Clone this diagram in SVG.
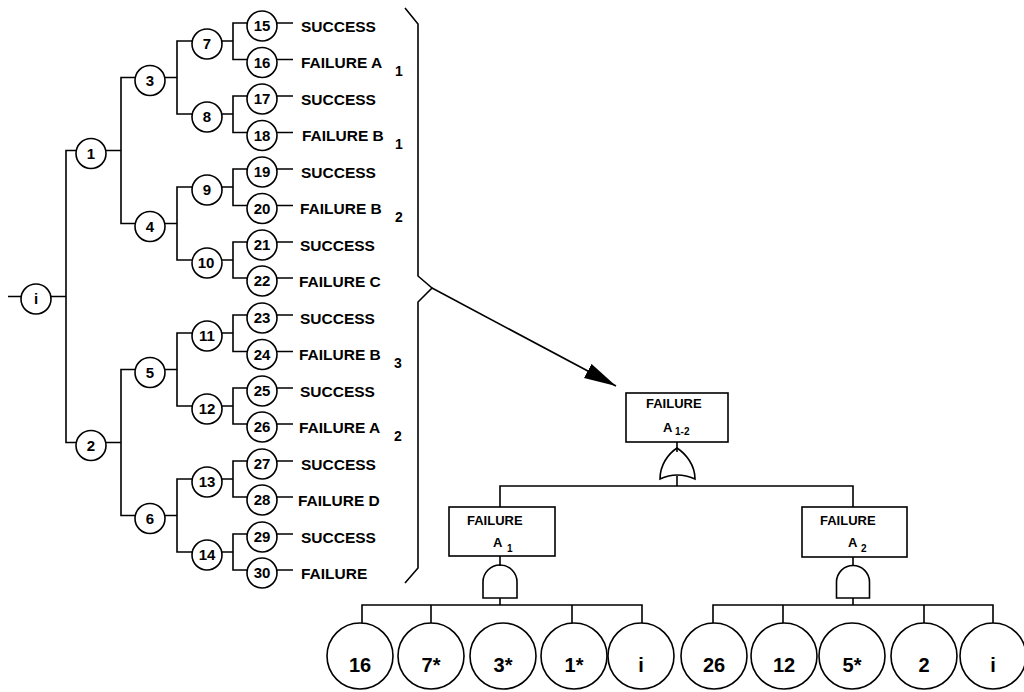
<svg xmlns="http://www.w3.org/2000/svg" width="1024" height="692" viewBox="0 0 1024 692">
<defs>
<style>
.ln{fill:none;stroke:#000;stroke-width:1.6}
.nd{fill:#fff;stroke:#000;stroke-width:1.6}
.gt{fill:#fff;stroke:#000;stroke-width:1.6}
text{font-family:"Liberation Sans",Arial,sans-serif;font-weight:bold;fill:#000}
.n{font-size:15px;text-anchor:middle}
.lb{font-size:15.5px}
.sb{font-size:14px;text-anchor:middle}
.bt{font-size:13px}
.bs{font-size:10px}
.bn{font-size:20px;text-anchor:middle}
</style>
<marker id="arr" markerUnits="userSpaceOnUse" markerWidth="34" markerHeight="18" refX="32" refY="8" orient="auto">
<path d="M0,0 L32,8 L0,16 Z" fill="#000"/>
</marker>
</defs>
<rect width="1024" height="692" fill="#fff"/>

<g id="gate-or">
<path class="gt" d="M660,479 C660,465 668,454 677,448 C686,454 695,465 695,479 Q677,471 660,479 Z"/>
</g>
<g id="gate-and-1">
<path class="gt" d="M483,598 V582 A17,17 0 0 1 517,582 V598 Z"/>
</g>
<g id="gate-and-2">
<path class="gt" d="M836.5,598 V582 A16.5,16.5 0 0 1 869.5,582 V598 Z"/>
</g>

<g id="connectors">
<path class="ln" d="M8,296.5 H21 M51,296.5 H66 M76,150.5 H66 V442.5 H76"/>
<path class="ln" d="M106,150.5 H121 M135,77.5 H121 V223.5 H135"/>
<path class="ln" d="M106,442.5 H121 M135,369.5 H121 V515.5 H135"/>
<path class="ln" d="M165,77.5 H177 M192,41 H177 V114 H192"/>
<path class="ln" d="M165,223.5 H177 M192,187 H177 V260 H192"/>
<path class="ln" d="M165,369.5 H177 M192,333 H177 V406 H192"/>
<path class="ln" d="M165,515.5 H177 M192,479 H177 V552 H192"/>
<path class="ln" d="M222,41 H233 M247,23 H233 V59.5 H247"/>
<path class="ln" d="M222,114 H233 M247,96 H233 V132.5 H247"/>
<path class="ln" d="M222,187 H233 M247,169 H233 V205.5 H247"/>
<path class="ln" d="M222,260 H233 M247,242 H233 V278 H247"/>
<path class="ln" d="M222,333 H233 M247,315 H233 V351.5 H247"/>
<path class="ln" d="M222,406 H233 M247,388 H233 V424 H247"/>
<path class="ln" d="M222,479 H233 M247,461 H233 V497 H247"/>
<path class="ln" d="M222,552 H233 M247,534 H233 V570 H247"/>
<path class="ln" d="M277,23 H293 M277,59.5 H293 M277,96 H293 M277,132.5 H293 M277,169 H293 M277,205.5 H293 M277,242 H293 M277,278 H293 M277,315 H293 M277,351.5 H293 M277,388 H293 M277,424 H293 M277,461 H293 M277,497 H293 M277,534 H293 M277,570 H293"/>
<path class="ln" d="M405,8 L418,24 L418,276 L432,288 L418,302 L418,568 L405,583"/>
<line class="ln" x1="432" y1="288" x2="616" y2="386" marker-end="url(#arr)"/>
<path class="ln" d="M677,442 V452 M677,476 V486 M500,507 V486 H853 V507"/>
<path class="ln" d="M500,556 V566 M500,598 V605 M362,623 V605 H642 V623 M431,605 V623 M572,605 V623"/>
<path class="ln" d="M853,557 V566 M853,598 V605 M713,623 V605 H993 V623 M783,605 V623 M924,605 V623"/>
</g>

<g id="node-i"><circle class="nd" cx="36" cy="299" r="15"/><text class="n" x="36" y="304">i</text></g>
<g id="node-1"><circle class="nd" cx="91" cy="153.5" r="15"/><text class="n" x="91" y="158.5">1</text></g>
<g id="node-2"><circle class="nd" cx="91" cy="445.5" r="15"/><text class="n" x="91" y="450.5">2</text></g>
<g id="node-3"><circle class="nd" cx="150" cy="80.5" r="15"/><text class="n" x="150" y="85.5">3</text></g>
<g id="node-4"><circle class="nd" cx="150" cy="226.5" r="15"/><text class="n" x="150" y="231.5">4</text></g>
<g id="node-5"><circle class="nd" cx="150" cy="372.5" r="15"/><text class="n" x="150" y="377.5">5</text></g>
<g id="node-6"><circle class="nd" cx="150" cy="518.5" r="15"/><text class="n" x="150" y="523.5">6</text></g>
<g id="node-7"><circle class="nd" cx="207" cy="44" r="15"/><text class="n" x="207" y="49">7</text></g>
<g id="node-8"><circle class="nd" cx="207" cy="117" r="15"/><text class="n" x="207" y="122">8</text></g>
<g id="node-9"><circle class="nd" cx="207" cy="190" r="15"/><text class="n" x="207" y="195">9</text></g>
<g id="node-10"><circle class="nd" cx="207" cy="263" r="15"/><text class="n" x="206" y="268">10</text></g>
<g id="node-11"><circle class="nd" cx="207" cy="336" r="15"/><text class="n" x="207" y="341">11</text></g>
<g id="node-12"><circle class="nd" cx="207" cy="409" r="15"/><text class="n" x="207" y="414">12</text></g>
<g id="node-13"><circle class="nd" cx="207" cy="482" r="15"/><text class="n" x="207" y="487">13</text></g>
<g id="node-14"><circle class="nd" cx="207" cy="555" r="15"/><text class="n" x="207" y="560">14</text></g>

<g id="node-15"><circle class="nd" cx="262" cy="26" r="15"/><text class="n" x="262" y="31">15</text><text class="lb" x="301" y="31.5">SUCCESS</text></g>
<g id="node-16"><circle class="nd" cx="262" cy="62.5" r="15"/><text class="n" x="262" y="67.5">16</text><text class="lb" x="301" y="68">FAILURE A</text><text class="sb" x="399" y="76">1</text></g>
<g id="node-17"><circle class="nd" cx="262" cy="99" r="15"/><text class="n" x="262" y="104">17</text><text class="lb" x="301" y="104.5">SUCCESS</text></g>
<g id="node-18"><circle class="nd" cx="262" cy="135.5" r="15"/><text class="n" x="262" y="140.5">18</text><text class="lb" x="302" y="141">FAILURE B</text><text class="sb" x="399" y="149">1</text></g>
<g id="node-19"><circle class="nd" cx="262" cy="172" r="15"/><text class="n" x="262" y="177">19</text><text class="lb" x="301" y="177.5">SUCCESS</text></g>
<g id="node-20"><circle class="nd" cx="262" cy="208.5" r="15"/><text class="n" x="262" y="213.5">20</text><text class="lb" x="300" y="214">FAILURE B</text><text class="sb" x="399" y="222">2</text></g>
<g id="node-21"><circle class="nd" cx="262" cy="245" r="15"/><text class="n" x="262" y="250">21</text><text class="lb" x="300" y="250.5">SUCCESS</text></g>
<g id="node-22"><circle class="nd" cx="262" cy="281" r="15"/><text class="n" x="262" y="286">22</text><text class="lb" x="299" y="286.5">FAILURE C</text></g>
<g id="node-23"><circle class="nd" cx="262" cy="318" r="15"/><text class="n" x="262" y="323">23</text><text class="lb" x="300" y="323.5">SUCCESS</text></g>
<g id="node-24"><circle class="nd" cx="262" cy="354.5" r="15"/><text class="n" x="262" y="359.5">24</text><text class="lb" x="299" y="360">FAILURE B</text><text class="sb" x="398" y="368">3</text></g>
<g id="node-25"><circle class="nd" cx="262" cy="391" r="15"/><text class="n" x="262" y="396">25</text><text class="lb" x="300" y="396.5">SUCCESS</text></g>
<g id="node-26"><circle class="nd" cx="262" cy="427" r="15"/><text class="n" x="262" y="432">26</text><text class="lb" x="299" y="432.5">FAILURE A</text><text class="sb" x="398" y="441">2</text></g>
<g id="node-27"><circle class="nd" cx="262" cy="464" r="15"/><text class="n" x="262" y="469">27</text><text class="lb" x="301" y="469.5">SUCCESS</text></g>
<g id="node-28"><circle class="nd" cx="262" cy="500" r="15"/><text class="n" x="262" y="505">28</text><text class="lb" x="298" y="505.5">FAILURE D</text></g>
<g id="node-29"><circle class="nd" cx="262" cy="537" r="15"/><text class="n" x="262" y="542">29</text><text class="lb" x="301" y="542.5">SUCCESS</text></g>
<g id="node-30"><circle class="nd" cx="262" cy="573" r="15"/><text class="n" x="262" y="578">30</text><text class="lb" x="301" y="578.5">FAILURE</text></g>

<g id="box-a12"><rect class="nd" x="626" y="393" width="102" height="49"/><text class="bt" x="646" y="408">FAILURE</text><text class="bt" x="663" y="432">A</text><text class="bs" x="675" y="435">1-2</text></g>
<g id="box-a1"><rect class="nd" x="449" y="507" width="106" height="49"/><text class="bt" x="467" y="525">FAILURE</text><text class="bt" x="493" y="547">A</text><text class="bs" x="507" y="552">1</text></g>
<g id="box-a2"><rect class="nd" x="802" y="507" width="105" height="50"/><text class="bt" x="820" y="525">FAILURE</text><text class="bt" x="848" y="547">A</text><text class="bs" x="861" y="552">2</text></g>

<g id="b-16"><circle class="nd" cx="360" cy="656" r="33"/><text class="bn" x="360" y="672">16</text></g>
<g id="b-7s"><circle class="nd" cx="431" cy="656" r="33"/><text class="bn" x="431" y="672">7*</text></g>
<g id="b-3s"><circle class="nd" cx="503" cy="656" r="33"/><text class="bn" x="503" y="672">3*</text></g>
<g id="b-1s"><circle class="nd" cx="574" cy="656" r="33"/><text class="bn" x="574" y="672">1*</text></g>
<g id="b-i1"><circle class="nd" cx="641" cy="656" r="33"/><text class="bn" x="641" y="672">i</text></g>
<g id="b-26"><circle class="nd" cx="714" cy="656" r="33"/><text class="bn" x="714" y="672">26</text></g>
<g id="b-12"><circle class="nd" cx="784" cy="656" r="33"/><text class="bn" x="784" y="672">12</text></g>
<g id="b-5s"><circle class="nd" cx="852" cy="656" r="33"/><text class="bn" x="852" y="672">5*</text></g>
<g id="b-2"><circle class="nd" cx="924" cy="656" r="33"/><text class="bn" x="924" y="672">2</text></g>
<g id="b-i2"><circle class="nd" cx="993" cy="656" r="33"/><text class="bn" x="993" y="672">i</text></g>
</svg>
